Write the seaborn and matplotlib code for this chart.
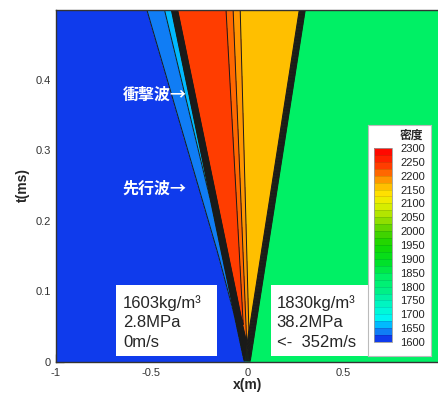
import numpy as np
import seaborn as sns
import matplotlib
import matplotlib.pyplot as plt
from matplotlib.colors import LinearSegmentedColormap
from matplotlib.patches import Rectangle
from matplotlib.ticker import MultipleLocator

# Riemann problem: states (density kg/m3) left to right, and wave speeds x/t (m/ms)
state_density = [1603, 1630, 1655, 2240, 2165, 1830]
wave_from = [-1.07, -0.885, -0.76, -0.231, 0.575]   # start of each wave
wave_to = [-1.07, -0.885, -0.76, -0.079, 0.575]     # end (contact is a fan)
wave_names = ["先行波→", "衝撃波→"]
wave_label_t = [0.246, 0.379]

left_state = ["1603kg/m³", "2.8MPa", "0m/s"]
right_state = ["1830kg/m³", "38.2MPa", "<-  352m/s"]

levels = np.arange(1600, 2301, 25)
cbar_ticks = np.arange(1600, 2301, 50)

# colour anchors (value, rgb)
cmap_vals = [1600, 1612, 1637, 1662, 1690, 1740, 1790, 1837, 1890, 1950,
             2000, 2050, 2100, 2137, 2162, 2200, 2237, 2275, 2300]
cmap_rgb = [(0, 0, 190), (16, 64, 240), (16, 128, 245), (0, 190, 255), (0, 250, 240),
            (0, 245, 190), (0, 240, 130), (0, 240, 100), (0, 225, 40), (20, 215, 0),
            (80, 210, 0), (160, 225, 0), (230, 240, 0), (255, 225, 0), (255, 192, 0),
            (255, 130, 0), (255, 64, 0), (255, 20, 0), (255, 0, 0)]

sns.set_theme(style="ticks")
plt.rcParams['font.family'] = ['Liberation Sans', 'Noto Sans CJK JP', 'DejaVu Sans']

pos = [(v - 1600) / 700 for v in cmap_vals]
cols = [tuple(c / 255 for c in rgb) for rgb in cmap_rgb]
cmap = LinearSegmentedColormap.from_list("dens", list(zip(pos, cols)))

# density field
smear = 0.035
x = np.linspace(-1, 1, 1400)
t = np.linspace(0, 0.5, 400)
X, T = np.meshgrid(x, t)
rho = np.full_like(X, float(state_density[0]))
for i in range(len(wave_from)):
    jump = state_density[i + 1] - state_density[i]
    width = (wave_to[i] - wave_from[i]) * T + smear
    frac = np.clip((X - wave_from[i] * T + smear / 2) / width, 0, 1)
    rho += jump * frac

fig = plt.figure(figsize=(4.39, 3.94), dpi=100)
ax = fig.add_axes([55.5 / 439, 1 - 361.5 / 394, (439 - 55.5) / 439, (361.5 - 9.5) / 394])

cf = ax.contourf(X, T, rho, levels=levels, cmap=cmap, vmin=1600, vmax=2300)
ax.contour(X, T, rho, levels=levels, colors='k', linewidths=0.7)

ax.set_xlim(-1, 1)
ax.set_ylim(0, 0.5)
ax.set_xticks([-1, -0.5, 0, 0.5])
ax.set_xticklabels(["-1", "-0.5", "0", "0.5"])
ax.set_yticks([0, 0.1, 0.2, 0.3, 0.4])
ax.set_yticklabels(["0", "0.1", "0.2", "0.3", "0.4"])
ax.xaxis.set_minor_locator(MultipleLocator(0.1))
ax.yaxis.set_minor_locator(MultipleLocator(0.02))
ax.tick_params(which='major', direction='in', length=6, width=0.9, color='#222222',
               labelsize=8, labelcolor='#333333')
ax.tick_params(axis='x', which='major', pad=5)
ax.tick_params(axis='y', which='major', pad=3.5)
ax.tick_params(which='minor', direction='in', length=3, width=0.7, color='#222222')
for sp in ax.spines.values():
    sp.set_color('#333333')
    sp.set_linewidth(1.0)
ax.set_xlabel("x(m)", fontsize=10, fontweight='bold', labelpad=0)
ax.set_ylabel("t(ms)", fontsize=10, fontweight='bold', labelpad=4)

# wave labels
for name, tt in zip(wave_names, wave_label_t):
    ax.text(-0.65, tt, name, color='white', fontsize=11.5, fontweight='bold',
            va='center', ha='left', family=['Noto Sans CJK JP', 'DejaVu Sans'])

# state boxes
ax.add_patch(Rectangle((-0.684, 0.0085), 0.526, 0.0995, fc='white', ec='none', zorder=3))
ax.add_patch(Rectangle((0.126, 0.0085), 0.532, 0.0995, fc='white', ec='none', zorder=3))
ax.text(-0.647, 0.0555, "\n".join(left_state), fontsize=12, va='center', ha='left',
        linespacing=1.4, zorder=4)
ax.text(0.153, 0.0555, "\n".join(right_state), fontsize=12, va='center', ha='left',
        linespacing=1.4, zorder=4)

# colour bar legend box
box = fig.add_axes([368 / 439, 1 - 356 / 394, (431 - 368) / 439, (356 - 125) / 394])
box.set_xticks([])
box.set_yticks([])
box.set_facecolor('white')
for sp in box.spines.values():
    sp.set_color('#bbbbbb')
    sp.set_linewidth(0.8)
box.text(0.5, 0.955, "密度", transform=box.transAxes, fontsize=8.5, fontweight='bold',
         ha='left', va='center', family=['Noto Sans CJK JP', 'DejaVu Sans'])

cax = fig.add_axes([374 / 439, 1 - 342 / 394, 18 / 439, (342 - 148) / 394])
cb = fig.colorbar(cf, cax=cax, ticks=cbar_ticks, drawedges=True)
cb.dividers.set_color('#000000')
cb.dividers.set_alpha(0.15)
cb.dividers.set_linewidth(0.5)
cb.outline.set_edgecolor('#999999')
cb.outline.set_linewidth(0.6)
cax.tick_params(length=0, labelsize=8, labelcolor='#222222', pad=6)

fig.savefig("out.png", dpi=100)
